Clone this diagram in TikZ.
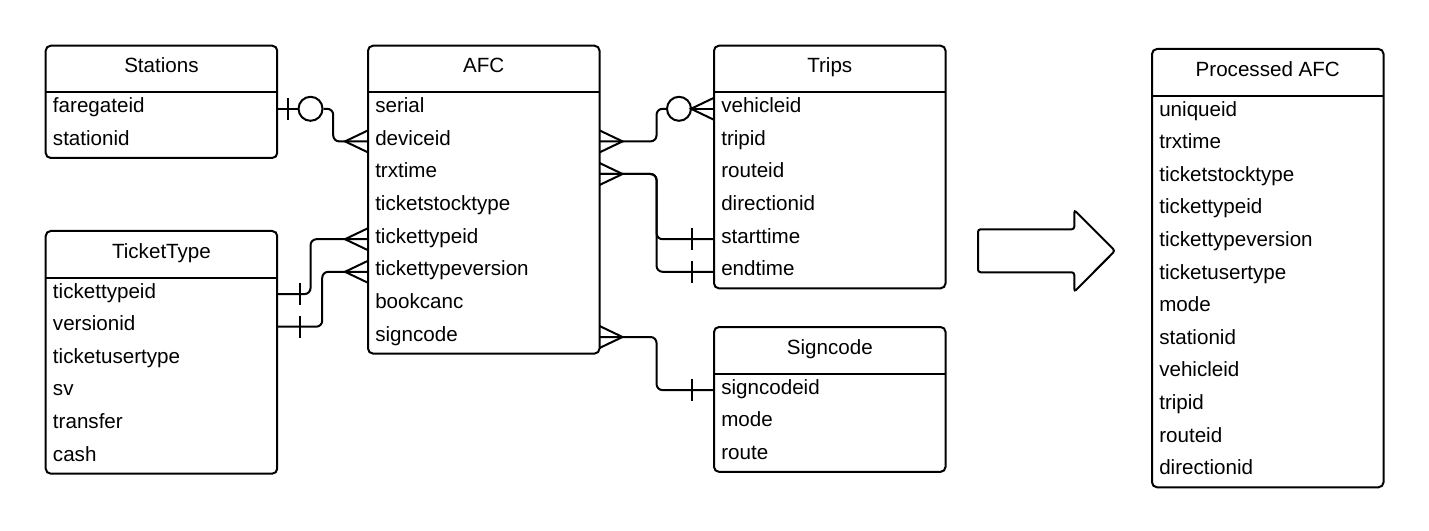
\documentclass[tikz,border=0pt]{standalone}
\usepackage{fontspec}
\setmainfont{Liberation Sans}
\usetikzlibrary{calc}
\tikzset{
  conn/.style={line width=1.5pt, rounded corners=4.5pt},
  edgeline/.style={line width=1.5pt},
  frame/.style={line width=1.5pt, rounded corners=3.75pt},
  hdrtext/.style={inner sep=0pt, minimum width=173.25pt, minimum height=34.5pt,
    text height=10.5pt, text depth=4.5pt, font=\fontsize{15.45pt}{18pt}\selectfont},
  rowtext/.style={inner xsep=5.25pt, inner ysep=0pt, minimum height=24.45pt,
    text width=162.75pt, align=left, text height=10.5pt, text depth=4.5pt,
    font=\fontsize{15.45pt}{18pt}\selectfont},
  circ/.style={circle, draw, line width=1.5pt, minimum size=18pt, inner sep=0pt},
  bigarrow/.style={line width=1.5pt, rounded corners=2pt}
}
\newcommand\entity[5]{%
  \node[hdrtext, anchor=north west] (#1) at (#2,#3) {#4};
  \foreach \r [count=\i] in {#5} {
    \node[rowtext, anchor=north west] (#1-\r) at ($(#1.south west)+(0,{(\i-1)*32.6})$) {\r};
  }
}
\newcommand\frameent[2]{%
  \draw[frame] (#1.north west) rectangle (#2.south east);
  \draw[edgeline] (#1.south west) -- (#1.south east);
}
\newcommand\crowfoot[2]{\draw[edgeline] ($(#1)+(0,-11)$) -- ($(#1)+(#2,0)$) -- ($(#1)+(0,11)$);}
\newcommand\onebar[2]{\draw[edgeline] ($(#1)+(#2,-11)$) -- ($(#1)+(#2,11)$);}
\begin{document}
\begin{tikzpicture}[x=0.75pt, y=-0.75pt]
\useasboundingbox (0,0) rectangle (1429,531);

\entity{st}{45.7}{45.7}{Stations}{faregateid,stationid}
\entity{afc}{368}{45.7}{AFC}{serial,deviceid,trxtime,ticketstocktype,tickettypeid,tickettypeversion,bookcanc,signcode}
\entity{trips}{714}{45.7}{Trips}{vehicleid,tripid,routeid,directionid,starttime,endtime}
\entity{tt}{45.7}{231}{TicketType}{tickettypeid,versionid,ticketusertype,sv,transfer,cash}
\entity{sc}{714}{327}{Signcode}{signcodeid,mode,route}
\entity{pafc}{1152}{49}{Processed AFC}{uniqueid,trxtime,ticketstocktype,tickettypeid,tickettypeversion,ticketusertype,mode,stationid,vehicleid,tripid,routeid,directionid}

\frameent{st}{st-stationid}
\frameent{afc}{afc-signcode}
\frameent{trips}{trips-endtime}
\frameent{tt}{tt-cash}
\frameent{sc}{sc-route}
\frameent{pafc}{pafc-directionid}

% Stations -> AFC
\node[circ] (c1) at ($(st-faregateid.east)+(33.3,0)$) {};
\draw[edgeline] (st-faregateid.east) -- (c1.west);
\onebar{st-faregateid.east}{11}
\draw[conn] (c1.east) -- ++(9.7,0) |- (afc-deviceid.west);
\crowfoot{afc-deviceid.west}{-23}

% AFC -> Trips (vehicleid)
\node[circ] (c2) at ($(trips-vehicleid.west)+(-35,0)$) {};
\draw[conn] (afc-deviceid.east) -- ++(57,0) |- (c2.west);
\draw[edgeline] (c2.east) -- (trips-vehicleid.west);
\crowfoot{afc-deviceid.east}{23}
\crowfoot{trips-vehicleid.west}{-23}

% AFC trxtime -> Trips starttime / endtime
\draw[conn] (afc-trxtime.east) -- ++(57,0) |- (trips-starttime.west);
\draw[conn] (afc-trxtime.east) -- ++(57,0) |- (trips-endtime.west);
\crowfoot{afc-trxtime.east}{23}
\onebar{trips-starttime.west}{-22.3}
\onebar{trips-endtime.west}{-22.3}

% AFC signcode -> Signcode
\draw[conn] (afc-signcode.east) -- ++(57,0) |- (sc-signcodeid.west);
\crowfoot{afc-signcode.east}{23}
\onebar{sc-signcodeid.west}{-22.3}

% TicketType -> AFC
\draw[conn] (tt-tickettypeid.east) -- ++(33.3,0) |- (afc-tickettypeid.west);
\onebar{tt-tickettypeid.east}{22.6}
\crowfoot{afc-tickettypeid.west}{-23}
\draw[conn] (tt-versionid.east) -- ++(45,0) |- (afc-tickettypeversion.west);
\onebar{tt-versionid.east}{22.6}
\crowfoot{afc-tickettypeversion.west}{-23}

% big arrow
\draw[bigarrow] (978,229.3) -- (1074.3,229.3) -- (1074.3,210) -- (1115,250.8)
  -- (1074.3,291.7) -- (1074.3,272.3) -- (978,272.3) -- cycle;
\end{tikzpicture}
\end{document}
